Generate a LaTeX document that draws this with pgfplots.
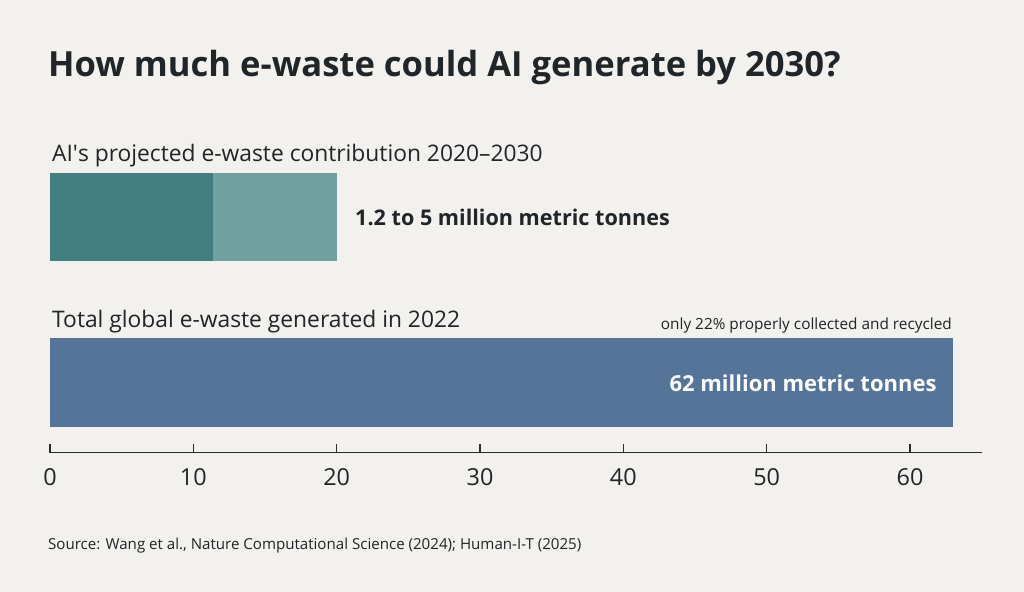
\documentclass[border=0pt]{standalone}
\usepackage{pgfplots}
\pgfplotsset{compat=1.18}
\usepackage{fontspec}
\setmainfont{Open Sans}

\definecolor{bgcol}{HTML}{F2F1ED}
\definecolor{inkcol}{HTML}{1F2528}
\definecolor{tealdark}{HTML}{427E7F}
\definecolor{teallight}{HTML}{70A09F}
\definecolor{bluebar}{HTML}{54749A}
\definecolor{axiscol}{HTML}{2A2A2A}

\newcommand{\fs}[1]{\fontsize{#1bp}{#1bp}\selectfont}

\begin{document}
\begin{tikzpicture}[x=1bp,y=1bp]
  \fill[bgcol] (0,0) rectangle (1024,592);

  % title and row captions (pixel coords, y measured from the bottom)
  \node[anchor=base west, inner sep=0, text=inkcol, font=\fs{34.6}\bfseries]
    at (48,515.3) {How much e-waste could AI generate by 2030?};
  \node[anchor=base west, inner sep=0, text=inkcol, font=\fs{22.8}]
    at (52,430.3) {AI\textquotesingle s projected e-waste contribution 2020–2030};
  \node[anchor=base west, inner sep=0, text=inkcol, font=\fs{22.8}]
    at (52,264.7) {Total global e-waste generated in 2022};
  \node[anchor=base east, inner sep=0, text=inkcol, font=\fs{15.35}]
    at (952,262) {only 22\% properly collected and recycled};
  \node[anchor=base west, inner sep=0, text=inkcol, font=\fs{15.1}]
    at (48,42.7) {Source: Wang et al., Nature Computational Science (2024); Human-I-T (2025)};

  \begin{axis}[
      at={(50bp,139.3bp)}, anchor=origin,
      scale only axis,
      width=931.7bp, height=280bp,
      xmin=0, xmax=65, ymin=0, ymax=280,
      enlargelimits=false,
      clip=false,
      axis y line=none,
      axis x line=bottom,
      axis line style={-, line width=1.6bp, axiscol},
      xtick={0,10,20,30,40,50,60},
      tick align=inside,
      major tick length=9bp,
      x tick style={line width=1.4bp, axiscol},
      xticklabel style={anchor=base, yshift=-33.3bp, text=inkcol, font=\fs{23.4}},
      /pgf/number format/assume math mode=true,
      xbar, bar width=88,
    ]
    % AI projection: upper estimate drawn first, lower estimate on top
    \addplot[fill=teallight, draw=none, bar shift=0pt] coordinates {(20,236.0)};
    \addplot[fill=tealdark, draw=none, bar shift=0pt] coordinates {(11.35,236.0)};
    % total global e-waste in 2022
    \addplot[fill=bluebar, draw=none, bar shift=0pt, bar width=89] coordinates {(63,69.9)};

    \node[anchor=base west, inner sep=0, text=inkcol, font=\fs{21.6}\bfseries]
      at (axis cs:21.28,226.7) {1.2 to 5 million metric tonnes};
    \node[anchor=base east, inner sep=0, text=white, font=\fs{22.0}\bfseries]
      at (axis cs:61.86,61) {62 million metric tonnes};
  \end{axis}

  \pgfresetboundingbox
  \useasboundingbox (0,0) rectangle (1024,592);
\end{tikzpicture}
\end{document}
